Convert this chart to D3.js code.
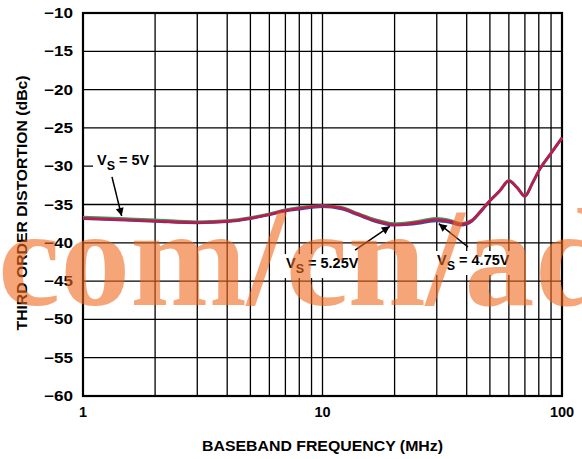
<!DOCTYPE html>
<html>
<head>
<meta charset="utf-8">
<script src="https://cdn.jsdelivr.net/npm/d3@7"></script>
<style>
  body { margin: 0; background: #fff; }
  svg { display: block; font-family: "Liberation Sans", Arial, sans-serif; font-weight: bold; }
  .grid { stroke: #000; stroke-width: 1.3; }
  .tick-label { font-size: 14.5px; fill: #000; }
  .axis-title { font-size: 14px; fill: #000; }
  .note { font-size: 14.5px; fill: #000; }
</style>
</head>
<body>
<div id="graph-container"></div>
<script>
// baseband frequency (MHz)
const freqs = [1, 1.5, 2, 3, 4, 5, 6, 7, 8, 10, 12, 14, 17, 20, 23, 26, 30, 34, 38, 42, 46, 50, 55, 60, 65, 70, 75, 80, 90, 100];
// third order distortion (dBc) per supply
const vs525 = [-36.8, -37.0, -37.15, -37.35, -37.2, -36.8, -36.3, -35.8, -35.5, -35.2, -35.45, -36.25, -37.2, -37.65, -37.5, -37.25, -36.95, -37.2, -37.6, -37.1, -35.8, -34.5, -33.2, -31.9, -32.8, -33.9, -32.3, -30.6, -28.3, -26.3];
const vs5 = [-36.65, -36.85, -37.0, -37.25, -37.1, -36.7, -36.2, -35.7, -35.4, -35.15, -35.35, -36.15, -37.05, -37.5, -37.35, -37.1, -36.8, -37.05, -37.5, -37.05, -35.75, -34.45, -33.15, -31.85, -32.75, -33.85, -32.25, -30.55, -28.25, -26.25];
const vs475 = [-36.85, -37.05, -37.2, -37.4, -37.25, -36.85, -36.35, -35.85, -35.6, -35.3, -35.6, -36.35, -37.3, -37.7, -37.6, -37.4, -37.15, -37.35, -37.7, -37.2, -35.9, -34.55, -33.25, -31.95, -32.85, -33.95, -32.35, -30.65, -28.35, -26.35];
const yTicks = [-10, -15, -20, -25, -30, -35, -40, -45, -50, -55, -60];
const xTicks = [1, 10, 100];
const xGrid = [2, 3, 4, 5, 6, 7, 8, 9, 10, 20, 30, 40, 50, 60, 70, 80, 90];

const width = 582, height = 459;
const plot = { left: 83, right: 562, top: 13, bottom: 396 };

const x = d3.scaleLog().domain([1, 100]).range([plot.left, plot.right]);
const y = d3.scaleLinear().domain([-60, -10]).range([plot.bottom, plot.top]);

const svg = d3.select('#graph-container')
              .append('svg')
              .attr('width', width)
              .attr('height', height);

// gridlines
svg.selectAll('line.vgrid')
   .data(xGrid)
   .enter()
   .append('line')
   .attr('class', 'grid')
   .attr('x1', d => x(d)).attr('x2', d => x(d))
   .attr('y1', plot.top).attr('y2', plot.bottom);

svg.selectAll('line.hgrid')
   .data(yTicks)
   .enter()
   .append('line')
   .attr('class', 'grid')
   .attr('x1', plot.left).attr('x2', plot.right)
   .attr('y1', d => y(d)).attr('y2', d => y(d));

// frame
svg.append('rect')
   .attr('x', plot.left).attr('y', plot.top)
   .attr('width', plot.right - plot.left)
   .attr('height', plot.bottom - plot.top)
   .attr('fill', 'none')
   .attr('stroke', '#000')
   .attr('stroke-width', 2.2);

// tick labels (glyphs stretched a little, like the original)
svg.selectAll('text.ylab')
   .data(yTicks)
   .enter()
   .append('text')
   .attr('class', 'tick-label')
   .attr('text-anchor', 'end')
   .attr('x', plot.left - 10)
   .attr('y', d => y(d) + 5)
   .attr('textLength', 29)
   .attr('lengthAdjust', 'spacingAndGlyphs')
   .text(d => '\u2212' + Math.abs(d));

svg.selectAll('text.xlab')
   .data(xTicks)
   .enter()
   .append('text')
   .attr('class', 'tick-label')
   .attr('text-anchor', 'middle')
   .attr('x', d => x(d))
   .attr('y', plot.bottom + 21)
   .text(d => d);

// axis titles
svg.append('text')
   .attr('class', 'axis-title')
   .attr('text-anchor', 'middle')
   .attr('x', (plot.left + plot.right) / 2)
   .attr('y', 451)
   .attr('textLength', 241)
   .attr('lengthAdjust', 'spacingAndGlyphs')
   .text('BASEBAND FREQUENCY (MHz)');

svg.append('text')
   .attr('class', 'axis-title')
   .attr('text-anchor', 'middle')
   .attr('transform', 'translate(27,' + 203 + ') rotate(-90)')
   .attr('textLength', 255)
   .attr('lengthAdjust', 'spacingAndGlyphs')
   .text('THIRD ORDER DISTORTION (dBc)');

// curves
const line = d3.line()
               .x((d, i) => x(freqs[i]))
               .y(d => y(d))
               .curve(d3.curveMonotoneX);

const series = [
  { values: vs475, color: '#2f4f9f' },
  { values: vs5, color: '#3b9a5c' },
  { values: vs525, color: '#c3174e' }
];
series.forEach(s => {
  svg.append('path')
     .attr('d', line(s.values))
     .attr('fill', 'none')
     .attr('stroke', s.color)
     .attr('stroke-width', 2.6)
     .attr('stroke-linejoin', 'round');
});

// annotations: label position and arrow in data units
const notes = [
  { label: '5V', f: 1.144, db: -29.84, tail: [1.321, -31.4], tip: [1.45, -36.5] },
  { label: '5.25V', f: 7.04, db: -43.3, tail: [13.67, -40.95], tip: [19.1, -37.85] },
  { label: '4.75V', f: 30.07, db: -42.9, tail: [40.5, -40.55], tip: [30.6, -37.5] }
];

svg.append('defs')
   .append('marker')
   .attr('id', 'head')
   .attr('viewBox', '0 0 10 10')
   .attr('refX', 10).attr('refY', 5)
   .attr('markerWidth', 12).attr('markerHeight', 8)
   .attr('markerUnits', 'userSpaceOnUse')
   .attr('orient', 'auto')
   .append('path')
   .attr('d', 'M0,0 L10,5 L0,10 z')
   .attr('fill', '#000');

notes.forEach(n => {
  let g = svg.append('g');
  let t = g.append('text')
           .attr('class', 'note')
           .attr('x', x(n.f))
           .attr('y', y(n.db));
  t.append('tspan').text('V');
  t.append('tspan').attr('dy', 5).attr('font-size', 12.5).text('S');
  t.append('tspan').attr('dy', -5).text(' = ' + n.label);
  let bb = t.node().getBBox();
  g.insert('rect', 'text')
   .attr('x', bb.x - 4).attr('y', bb.y - 1)
   .attr('width', bb.width + 8).attr('height', bb.height + 3)
   .attr('fill', '#fff');

  svg.append('line')
     .attr('x1', x(n.tail[0])).attr('y1', y(n.tail[1]))
     .attr('x2', x(n.tip[0])).attr('y2', y(n.tip[1]))
     .attr('stroke', '#000')
     .attr('stroke-width', 1.5)
     .attr('marker-end', 'url(#head)');
});

// watermark
svg.append('text')
   .attr('x', -2)
   .attr('y', 305)
   .attr('font-family', '"Liberation Serif", "Times New Roman", serif')
   .attr('font-weight', 'bold')
   .attr('font-size', 140)
   .attr('fill', '#f06a1e')
   .attr('opacity', 0.6)
   .text('com/cn/ad');
</script>
</body>
</html>
